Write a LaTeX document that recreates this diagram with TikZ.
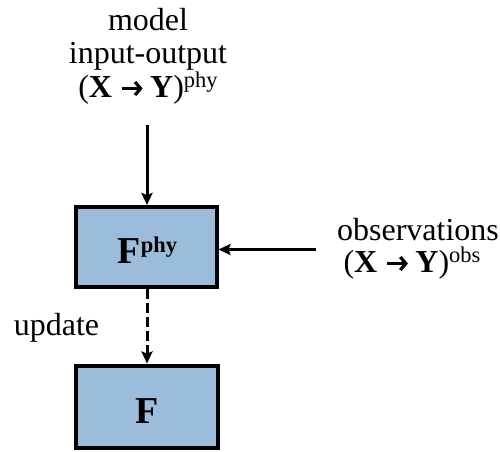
\documentclass[tikz,border=0pt]{standalone}
\usepackage{fontspec}
\setmainfont{Liberation Serif}
\usetikzlibrary{arrows.meta}
\definecolor{boxblue}{RGB}{155,188,218}
% superscript tag such as "phy" or "obs"
\newcommand\suptag[1]{\raisebox{10pt}{\fontsize{22.5}{22.5}\selectfont #1}}
% bold chevron arrow used between X and Y
\newcommand\chevarrow{\tikz[baseline=0pt,x=1pt,y=1pt]
  \draw[line width=3.2pt,-{Straight Barb[length=5.5pt,width=13pt,line width=3.2pt]}] (0,8.5) -- (21,8.5);}
\newcommand\xy{(\textbf{X}\hspace{8pt}\chevarrow\hspace{6pt}\textbf{Y})}
\begin{document}
\begin{tikzpicture}[x=1pt,y=-1pt,
  block/.style={draw=black,line width=4pt,fill=boxblue,inner sep=0pt},
  flow/.style={line width=3pt,-{Stealth[length=12pt,width=11pt,inset=2pt]}},
  lbl/.style={font=\fontsize{32}{33.5}\selectfont,inner sep=0pt,anchor=base},
]
\useasboundingbox (0,0) rectangle (500,451);

% model blocks
\node[block,minimum width=140.5pt,minimum height=80pt] (fphy) at (146.25,247) {};
\node[block,minimum width=141.5pt,minimum height=82.5pt] (f) at (146.75,406.75) {};
\node[lbl] (fphylabel) at (147.5,263)
  {\fontsize{38}{38}\selectfont\bfseries F\raisebox{11pt}{\fontsize{22.5}{22.5}\selectfont\bfseries phy}};
\node[lbl] (flabel) at (147.5,423) {\fontsize{38}{38}\selectfont\bfseries F};

% model input-output
\node[lbl] (src1) at (148,30) {model};
\node[lbl] (src2) at (148,63.5) {input-output};
\node[lbl] (src3) at (148,97) {\xy\suptag{phy}};
\coordinate (srcend) at (147,125);

% observations
\node[lbl] (obs1) at (418,240.5) {observations};
\node[lbl] (obs2) at (412,272) {\xy\suptag{obs}};
\coordinate (obsend) at (316,249.5);

% update label
\node[lbl] (upd) at (56.5,335) {update};

% connectors
\draw[flow] (srcend) -- (srcend |- fphy.north);
\draw[flow] (obsend) -- (fphy.east |- obsend);
\draw[flow,dash pattern=on 10pt off 4pt] (fphy.south -| srcend) -- (srcend |- f.north);
\end{tikzpicture}
\end{document}
